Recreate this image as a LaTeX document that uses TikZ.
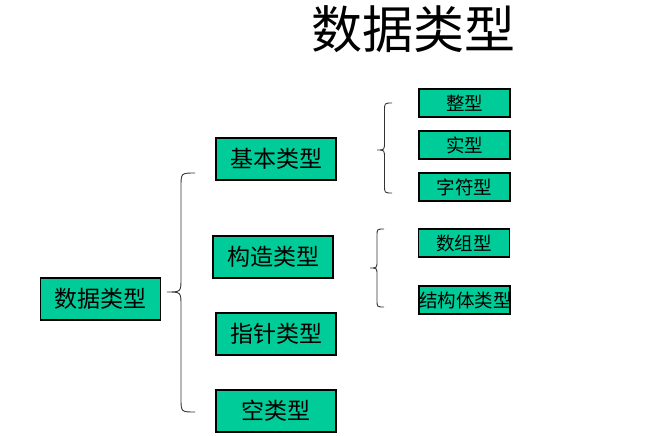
\documentclass[tikz,border=0pt]{standalone}
\usepackage{fontspec}
\setmainfont{Noto Sans CJK SC}
\definecolor{boxgreen}{RGB}{0,204,153}
\tikzset{
  bigbox/.style={draw=black, fill=boxgreen, line width=1.1pt, minimum width=120pt, minimum height=42pt, inner sep=0pt, font=\fontsize{23}{23}\selectfont},
  smallbox/.style={draw=black, fill=boxgreen, line width=1.1pt, minimum width=91pt, minimum height=28pt, inner sep=0pt, font=\fontsize{18.5}{18.5}\selectfont},
  bracel/.style={draw=black!80, line width=0.9pt}
}
\begin{document}
\begin{tikzpicture}[x=1pt,y=-1pt]
\useasboundingbox (0,0) rectangle (661,436);
\node (title) at (413,29) {\fontsize{51}{51}\selectfont 数据类型};
\node[bigbox] (root) at (100.5,299) {数据类型};
\node[bigbox] (basic) at (276,159) {基本类型};
\node[bigbox] (constr) at (273,257) {构造类型};
\node[bigbox] (ptr) at (276,334) {指针类型};
\node[bigbox] (void) at (276,411) {空类型};
\node[smallbox] (int) at (464.5,103) {整型};
\node[smallbox] (real) at (464.5,145) {实型};
\node[smallbox] (char) at (464.5,187) {字符型};
\node[smallbox] (arr) at (464,243) {数组型};
\node[smallbox] (struct) at (464.5,300) {\makebox[0pt]{\hspace{2pt}结构体类型}};
% big brace
\draw[bracel] (195,173) .. controls (181,173) .. (181,187) -- (181,278)
  .. controls (181,292) .. (167,292) .. controls (181,292) .. (181,306)
  -- (181,398) .. controls (181,412) .. (195,412);
% brace for basic types
\draw[bracel] (392,103) .. controls (384.5,103) .. (384.5,111) -- (384.5,142)
  .. controls (384.5,150) .. (377,150) .. controls (384.5,150) .. (384.5,158)
  -- (384.5,185) .. controls (384.5,193) .. (392,193);
% brace for constructed types
\draw[bracel] (384,229) .. controls (377,229) .. (377,236) -- (377,261)
  .. controls (377,268) .. (370,268) .. controls (377,268) .. (377,275)
  -- (377,300) .. controls (377,307) .. (384,307);
\end{tikzpicture}
\end{document}
